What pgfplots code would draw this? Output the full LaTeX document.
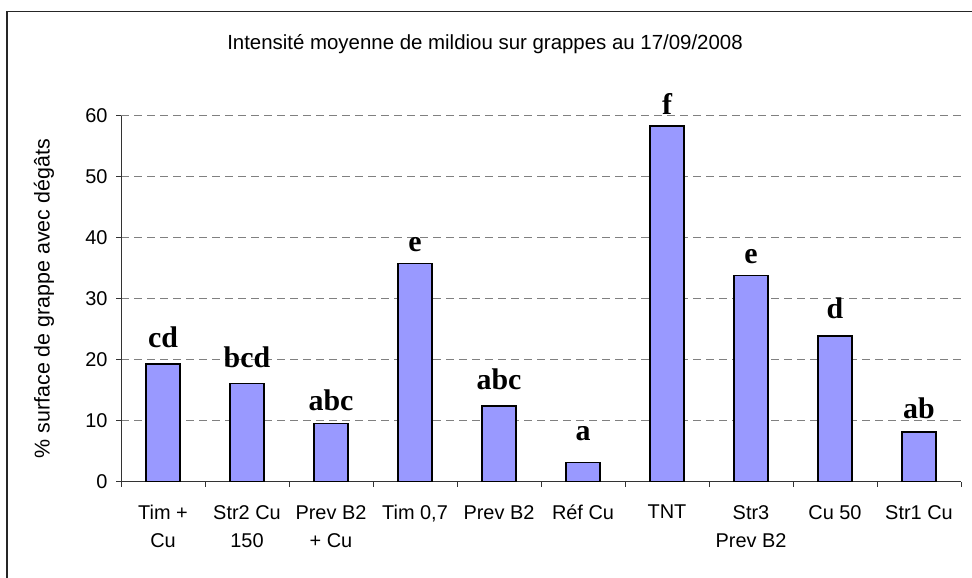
\documentclass[border=0pt]{standalone}
\usepackage{fontspec}
\setmainfont{Liberation Sans}
\newfontfamily\lserif{Liberation Serif}
\usepackage{pgfplots}
\pgfplotsset{compat=1.18}
\definecolor{barblue}{HTML}{9999FF}
\begin{document}
\begin{tikzpicture}[x=1bp,y=1bp]
\useasboundingbox (0,0) rectangle (972,578);
\draw[line width=1.5bp, black!85] (7,0) -- (7,566.5) -- (972,566.5);
\node[font=\fontsize{20.5}{24}\selectfont, anchor=base, inner sep=0pt] at (485,528.7) {Intensité moyenne de mildiou sur grappes au 17/09/2008};
\begin{axis}[
  at={(121bp,96.3bp)}, anchor=south west,
  scale only axis, width=840bp, height=366bp,
  xmin=-0.5, xmax=9.5, ymin=0, ymax=60,
  axis lines=left,
  axis line style={-, line width=1bp, black!80},
  tick style={line width=1bp, black!80},
  tick align=outside, major tick length=5bp,
  ytick={0,10,...,60},
  ymajorgrids,
  major grid style={dash pattern=on 8bp off 5bp, line width=1.2bp, black!50},
  xtick={-0.5,0.5,...,9.5},
  xticklabels={{Tim +\\Cu}, {Str2 Cu\\150}, {Prev B2\\+ Cu}, {Tim 0,7}, {Prev B2}, {Réf Cu}, {TNT}, {Str3\\Prev B2}, {Cu 50}, {Str1 Cu}, {}},
  xticklabel style={align=center, xshift=42bp, yshift=-15bp, font=\fontsize{20}{28}\selectfont, anchor=north},
  yticklabel style={font=\fontsize{20}{24}\selectfont, xshift=-5bp},
  /pgf/number format/assume math mode=true,
  ylabel={\% surface de grappe avec dégâts},
  ylabel style={at={(axis description cs:0,0.5)}, anchor=center, yshift=77bp, font=\fontsize{21.5}{24}\selectfont},
  ybar, bar width=34bp, bar shift=0pt,
  clip=false,
]
\addplot[ybar, fill=barblue, draw=black, line width=1.3bp] coordinates {
(0,19.3) (1,16.1) (2,9.5) (3,35.8) (4,12.4) (5,3.2) (6,58.3) (7,33.8) (8,23.9) (9,8.15)};
\begin{scope}[every node/.style={anchor=base, inner sep=0pt, font=\lserif\bfseries\fontsize{30}{30}\selectfont}]
\node at (axis cs:0,22.0) {cd};
\node at (axis cs:1,18.7) {bcd};
\node at (axis cs:2,11.75) {abc};
\node at (axis cs:3,37.7) {e};
\node at (axis cs:4,15.1) {abc};
\node at (axis cs:5,6.8) {a};
\node at (axis cs:6,60.2) {f};
\node at (axis cs:7,35.8) {e};
\node at (axis cs:8,26.7) {d};
\node at (axis cs:9,10.3) {ab};
\end{scope}
\end{axis}
\end{tikzpicture}
\end{document}
